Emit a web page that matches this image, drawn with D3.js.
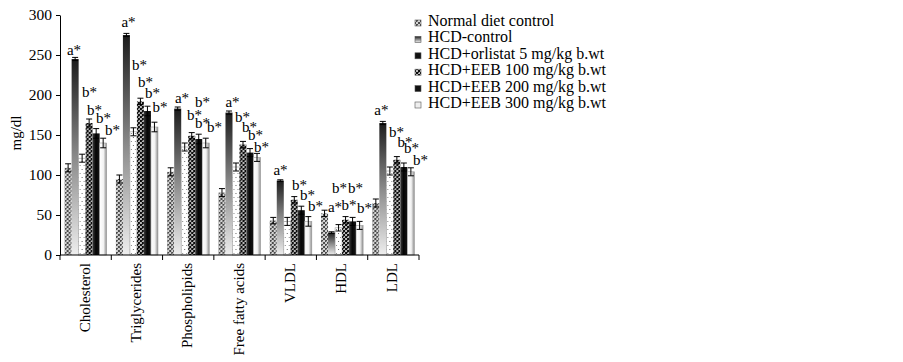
<!DOCTYPE html>
<html><head><meta charset="utf-8">
<script src="https://cdn.jsdelivr.net/npm/d3@7"></script>
<style>
body{margin:0;background:#fff}
svg{display:block}
text{font-family:"Liberation Serif","Times New Roman",serif;fill:#000}
</style>
</head><body>
<svg id="chart" width="903" height="362"></svg>
<script>
const categories = ["Cholesterol","Triglycerides","Phospholipids","Free fatty acids","VLDL","HDL","LDL"];
const seriesNames = ["Normal diet control","HCD-control","HCD+orlistat 5 mg/kg b.wt","HCD+EEB 100 mg/kg b.wt","HCD+EEB 200 mg/kg b.wt","HCD+EEB 300 mg/kg b.wt"];
const normalDiet = [109, 95, 104, 78, 43, 52, 65];
const hcdControl = [245, 275, 183, 178, 93, 28, 165];
const orlistat5  = [121, 154, 135, 110, 42, 34, 105];
const eeb100     = [165, 192, 149, 138, 69, 44, 119];
const eeb200     = [152, 180, 145, 128, 56, 42, 110];
const eeb300     = [140, 160, 140, 122, 42, 37, 104];
const errNormal  = [5, 5, 5, 5, 4, 4, 5];
const errHcd     = [2, 2, 2, 2, 1, 1, 2];
const errOrl     = [5, 5, 5, 5, 5, 4, 5];
const err100     = [5, 4, 4, 4, 4, 4, 4];
const err200     = [6, 6, 6, 5, 5, 5, 5];
const err300     = [6, 6, 6, 5, 6, 5, 5];
const yTicks = [0, 50, 100, 150, 200, 250, 300];
// significance labels: [category, series slot, value (mg/dl) at text baseline, text]
const sigLabels = [
  ["Cholesterol",0.84,250,"a*"],["Cholesterol",3.06,197.5,"b*"],["Cholesterol",3.77,175,"b*"],["Cholesterol",5.06,165,"b*"],["Cholesterol",6.34,150,"b*"],
  ["Triglycerides",1.3,285,"a*"],["Triglycerides",2.87,231,"b*"],["Triglycerides",3.73,210,"b*"],["Triglycerides",4.73,196,"b*"],["Triglycerides",5.8,179,"b*"],
  ["Phospholipids",1.61,190,"a*"],["Phospholipids",4.54,185,"b*"],["Phospholipids",3.4,169,"b*"],["Phospholipids",4.54,159,"b*"],["Phospholipids",6.26,154,"b*"],
  ["Free fatty acids",1.5,185,"a*"],["Free fatty acids",2.93,166,"b*"],["Free fatty acids",3.93,154,"b*"],["Free fatty acids",4.79,144,"b*"],["Free fatty acids",5.64,129,"b*"],
  ["VLDL",1.03,100,"a*"],["VLDL",3.74,81,"b*"],["VLDL",4.89,69,"b*"],["VLDL",6.03,55,"b*"],
  ["HDL",2.13,77.5,"b*"],["HDL",4.41,77.5,"b*"],["HDL",1.49,54,"a*"],["HDL",3.49,56,"b*"],["HDL",5.7,52.5,"b*"],
  ["LDL",0.8,175,"a*"],["LDL",2.94,147.5,"b*"],["LDL",4.16,135,"b*"],["LDL",5.09,127.5,"b*"],["LDL",6.37,112.5,"b*"]
];

const values = [normalDiet, hcdControl, orlistat5, eeb100, eeb200, eeb300];
const errors = [errNormal, errHcd, errOrl, err100, err200, err300];

const svg = d3.select("#chart");
const defs = svg.append("defs");

// pattern: Normal diet (gray checker)
const p0 = defs.append("pattern").attr("id","p0").attr("patternUnits","userSpaceOnUse").attr("width",4).attr("height",4);
p0.append("rect").attr("width",4).attr("height",4).attr("fill","#d4d4d4");
p0.append("rect").attr("x",0).attr("y",0).attr("width",2).attr("height",2).attr("fill","#4a4a4a");
p0.append("rect").attr("x",2).attr("y",2).attr("width",2).attr("height",2).attr("fill","#4a4a4a");
p0.append("rect").attr("x",1).attr("y",1).attr("width",1).attr("height",1).attr("fill","#9a9a9a");
// pattern: orlistat (white with sparse dots)
const p2 = defs.append("pattern").attr("id","p2").attr("patternUnits","userSpaceOnUse").attr("width",4).attr("height",8);
p2.append("rect").attr("width",4).attr("height",8).attr("fill","#ffffff");
p2.append("rect").attr("x",1).attr("y",1).attr("width",1).attr("height",1).attr("fill","#666");
p2.append("rect").attr("x",3).attr("y",5).attr("width",1).attr("height",1).attr("fill","#888");
// pattern: EEB100 (dark checker)
const p3 = defs.append("pattern").attr("id","p3").attr("patternUnits","userSpaceOnUse").attr("width",4).attr("height",4);
p3.append("rect").attr("width",4).attr("height",4).attr("fill","#b8b8b8");
p3.append("rect").attr("x",0).attr("y",0).attr("width",2).attr("height",2).attr("fill","#0d0d0d");
p3.append("rect").attr("x",2).attr("y",2).attr("width",2).attr("height",2).attr("fill","#0d0d0d");
p3.append("rect").attr("x",2).attr("y",0).attr("width",1).attr("height",1).attr("fill","#444");
// gradient: HCD-control (dark top -> light bottom)
const g1 = defs.append("linearGradient").attr("id","g1").attr("x1",0).attr("y1",0).attr("x2",0).attr("y2",1);
g1.append("stop").attr("offset","0%").attr("stop-color","#1c1c1c");
g1.append("stop").attr("offset","50%").attr("stop-color","#8a8a8a");
g1.append("stop").attr("offset","100%").attr("stop-color","#eeeeee");
// gradient: EEB200 (black)
const g4 = defs.append("linearGradient").attr("id","g4").attr("x1",0).attr("y1",0).attr("x2",1).attr("y2",0);
g4.append("stop").attr("offset","0%").attr("stop-color","#3a3a3a");
g4.append("stop").attr("offset","45%").attr("stop-color","#050505");
g4.append("stop").attr("offset","100%").attr("stop-color","#151515");
// gradient: EEB300 (white -> gray horizontally)
const g5 = defs.append("linearGradient").attr("id","g5").attr("x1",0).attr("y1",0).attr("x2",1).attr("y2",0);
g5.append("stop").attr("offset","0%").attr("stop-color","#ffffff");
g5.append("stop").attr("offset","55%").attr("stop-color","#f2f2f2");
g5.append("stop").attr("offset","100%").attr("stop-color","#8c8c8c");

const fills = ["url(#p0)","url(#g1)","url(#p2)","url(#p3)","url(#g4)","url(#g5)"];
const strokes = ["none","none","#9a9a9a","none","none","#9a9a9a"];
const legendFills = ["url(#p0)","url(#g1)","#111","url(#p3)","#111","#eeeeee"];

const y = d3.scaleLinear().domain([0,300]).range([255,15]);
const x0 = d3.scaleBand().domain(categories).range([60,419]).paddingInner(0.18).paddingOuter(0.09);
const x1 = d3.scaleBand().domain(d3.range(seriesNames.length)).range([0, x0.bandwidth()]);

// bars
const groups = svg.append("g").selectAll("g").data(categories).join("g")
  .attr("transform", c => `translate(${x0(c)},0)`);
groups.each(function(c, ci){
  const g = d3.select(this);
  values.forEach((vals, si) => {
    const v = vals[ci];
    g.append("rect")
      .attr("x", x1(si)).attr("y", y(v))
      .attr("width", x1.bandwidth()).attr("height", y(0)-y(v))
      .attr("fill", fills[si])
      .attr("stroke", strokes[si]).attr("stroke-width", 0.6);
  });
  values.forEach((vals, si) => {
    const v = vals[ci], e = errors[si][ci];
    const cx = x1(si) + x1.bandwidth()/2;
    const eb = g.append("g").attr("stroke","#000").attr("stroke-width",1);
    eb.append("line").attr("x1",cx).attr("x2",cx).attr("y1",y(v+e)).attr("y2",y(v-e));
    eb.append("line").attr("x1",cx-3).attr("x2",cx+3).attr("y1",y(v+e)).attr("y2",y(v+e));
    eb.append("line").attr("x1",cx-3).attr("x2",cx+3).attr("y1",y(v-e)).attr("y2",y(v-e));
  });
});

// significance labels
svg.append("g").selectAll("text").data(sigLabels).join("text")
  .attr("x", d => x0(d[0]) + x1(0) + (d[1]+0.5)*x1.bandwidth())
  .attr("y", d => y(d[2]))
  .attr("text-anchor","middle")
  .style("font-size","15px")
  .text(d => d[3]);

// y axis
const yAxis = svg.append("g").attr("transform","translate(60,0)")
  .call(d3.axisLeft(y).tickValues(yTicks).tickSize(4).tickSizeOuter(0).tickPadding(4));
yAxis.selectAll("text").style("font-size","15.5px").style("font-family",'"Liberation Serif",serif');
yAxis.selectAll("line,path").attr("stroke","#000");

// x axis (ticks at category boundaries)
const step = x0.step();
const xAxis = svg.append("g");
xAxis.append("line").attr("x1",60).attr("x2",60+step*categories.length).attr("y1",255).attr("y2",255).attr("stroke","#000");
xAxis.selectAll("line.tk").data(d3.range(categories.length+1)).join("line").attr("class","tk")
  .attr("x1", i => 60 + i*step).attr("x2", i => 60 + i*step)
  .attr("y1",255).attr("y2",260).attr("stroke","#000");
xAxis.selectAll("text").data(categories).join("text")
  .attr("transform", c => `translate(${x0(c)+x0.bandwidth()/2+4},263) rotate(-90)`)
  .attr("text-anchor","end")
  .style("font-size","15px")
  .text(c => c);

// y axis title
svg.append("text").attr("transform","translate(21,133) rotate(-90)")
  .attr("text-anchor","middle").style("font-size","15px").text("mg/dl");

// legend
const leg = svg.append("g");
seriesNames.forEach((n, i) => {
  const by = 26 + i*16.4;
  leg.append("rect").attr("x",415).attr("y",by-6).attr("width",6).attr("height",6)
    .attr("fill", legendFills[i]).attr("stroke","#555").attr("stroke-width",0.6);
  leg.append("text").attr("x",428).attr("y",by).style("font-size","16px").text(n);
});
</script>
</body></html>
